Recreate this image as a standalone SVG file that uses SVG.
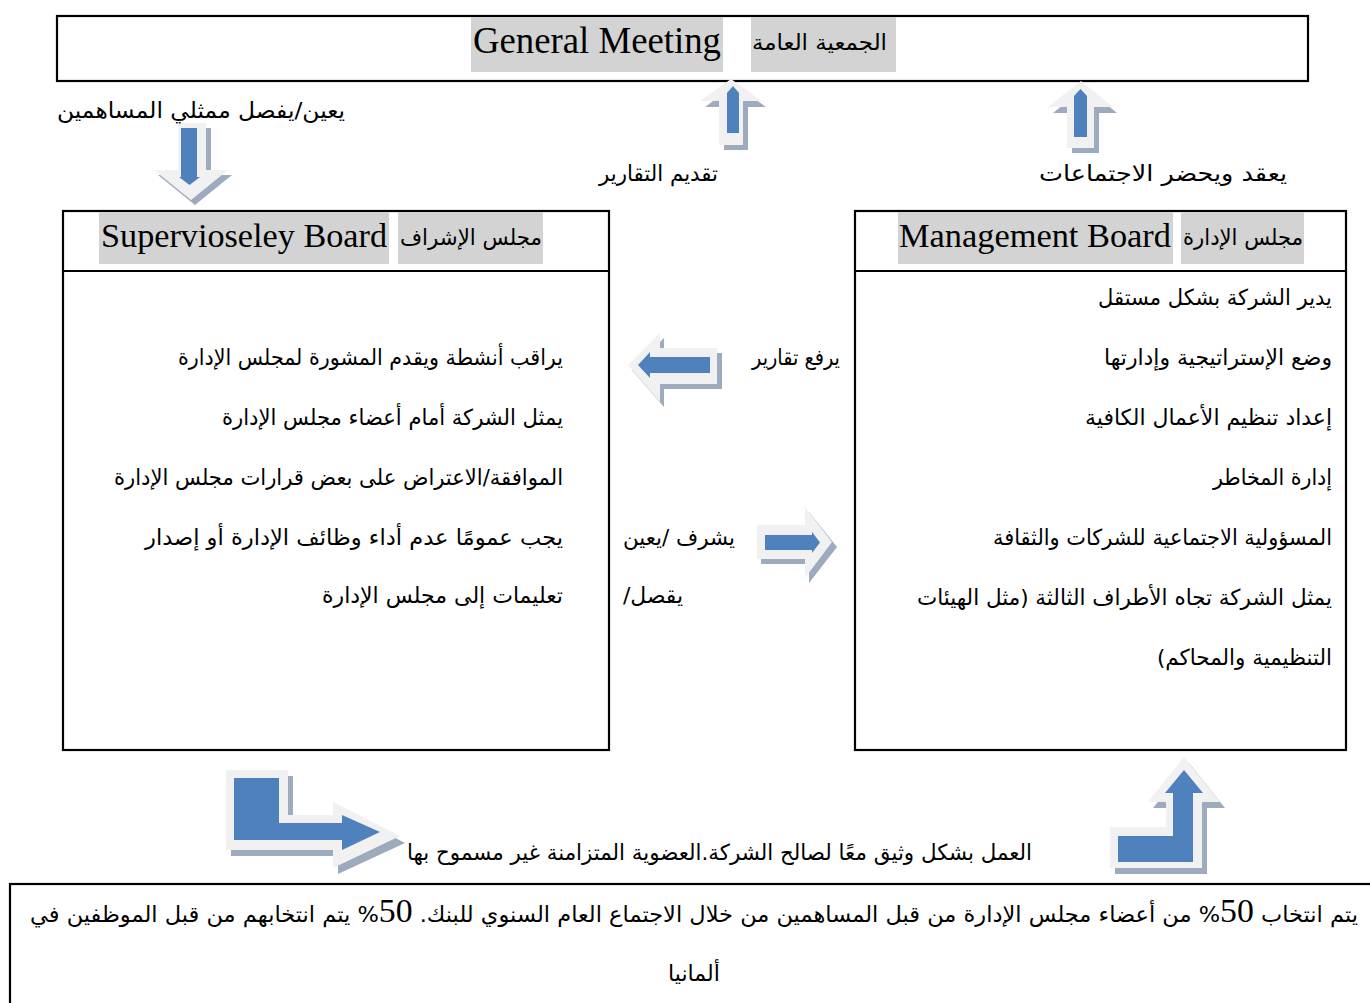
<svg xmlns="http://www.w3.org/2000/svg" width="1370" height="1003" viewBox="0 0 1370 1003">
  <style>
    .box { fill: none; stroke: #000; stroke-width: 2.2; }
    .hl { fill: #d3d3d3; }
    .en { font-family: 'Liberation Serif', 'Times New Roman', serif; fill: #000; }
    .ar { font-family: 'DejaVu Sans', sans-serif; font-size: 22px; fill: #000; direction: rtl; text-anchor: start; }
    .num { font-family: 'Liberation Serif', serif; font-size: 33px; }
    .shadow { fill: #9eaabd; }
    .rim { fill: #f1f1f1; }
    .core { fill: #4f81bd; }
  </style>
  <rect width="1370" height="1003" fill="#fff"/>

  <!-- General Meeting -->
  <g id="general-meeting">
    <rect class="box" x="57" y="16" width="1251" height="65"/>
    <rect class="hl" x="471" y="17" width="252" height="55"/>
    <rect class="hl" x="751" y="17" width="145" height="55"/>
    <text class="en" x="473" y="53" font-size="37" textLength="248" lengthAdjust="spacingAndGlyphs">General Meeting</text>
    <text class="ar" x="887" y="50" textLength="135" lengthAdjust="spacingAndGlyphs">الجمعية العامة</text>
  </g>

  <!-- Supervisory Board -->
  <g id="supervisory-board">
    <rect class="box" x="63" y="211" width="546" height="539"/>
    <line class="box" x1="63" y1="271" x2="609" y2="271"/>
    <rect class="hl" x="99" y="212" width="290" height="52"/>
    <rect class="hl" x="398" y="212" width="145" height="52"/>
    <text class="en" x="101" y="247" font-size="34" textLength="286" lengthAdjust="spacingAndGlyphs">Supervioseley Board</text>
    <text class="ar" x="542" y="245" textLength="142" lengthAdjust="spacingAndGlyphs">مجلس الإشراف</text>
    <text class="ar" x="563" y="365" textLength="385" lengthAdjust="spacingAndGlyphs">يراقب أنشطة ويقدم المشورة لمجلس الإدارة</text>
    <text class="ar" x="563" y="425" textLength="341" lengthAdjust="spacingAndGlyphs">يمثل الشركة أمام أعضاء مجلس الإدارة</text>
    <text class="ar" x="563" y="485" textLength="449" lengthAdjust="spacingAndGlyphs">الموافقة/الاعتراض على بعض قرارات مجلس الإدارة</text>
    <text class="ar" x="563" y="545" textLength="418" lengthAdjust="spacingAndGlyphs">يجب عمومًا عدم أداء وظائف الإدارة أو إصدار</text>
    <text class="ar" x="563" y="603" textLength="241" lengthAdjust="spacingAndGlyphs">تعليمات إلى مجلس الإدارة</text>
  </g>

  <!-- Management Board -->
  <g id="management-board">
    <rect class="box" x="855" y="211" width="491" height="539"/>
    <line class="box" x1="855" y1="271" x2="1346" y2="271"/>
    <rect class="hl" x="898" y="212" width="275" height="52"/>
    <rect class="hl" x="1181" y="212" width="123" height="52"/>
    <text class="en" x="899" y="247" font-size="34" textLength="272" lengthAdjust="spacingAndGlyphs">Management Board</text>
    <text class="ar" x="1303" y="245" textLength="120" lengthAdjust="spacingAndGlyphs">مجلس الإدارة</text>
    <text class="ar" x="1332" y="305" textLength="234" lengthAdjust="spacingAndGlyphs">يدير الشركة بشكل مستقل</text>
    <text class="ar" x="1332" y="365" textLength="228" lengthAdjust="spacingAndGlyphs">وضع الإستراتيجية وإدارتها</text>
    <text class="ar" x="1332" y="425" textLength="247" lengthAdjust="spacingAndGlyphs">إعداد تنظيم الأعمال الكافية</text>
    <text class="ar" x="1332" y="485" textLength="119" lengthAdjust="spacingAndGlyphs">إدارة المخاطر</text>
    <text class="ar" x="1332" y="545" textLength="339" lengthAdjust="spacingAndGlyphs">المسؤولية الاجتماعية للشركات والثقافة</text>
    <text class="ar" x="1332" y="605" textLength="415" lengthAdjust="spacingAndGlyphs">يمثل الشركة تجاه الأطراف الثالثة (مثل الهيئات</text>
    <text class="ar" x="1332" y="665" textLength="175" lengthAdjust="spacingAndGlyphs">التنظيمية والمحاكم)</text>
  </g>

  <!-- Election note -->
  <g id="election-note">
    <rect class="box" x="10" y="884" width="1400" height="200"/>
    <text class="ar" x="1358" y="922" textLength="1328" lengthAdjust="spacingAndGlyphs">يتم انتخاب <tspan class="num">50</tspan>% من أعضاء مجلس الإدارة من قبل المساهمين من خلال الاجتماع العام السنوي للبنك. <tspan class="num">50</tspan>% يتم انتخابهم من قبل الموظفين في</text>
    <text class="ar" x="720" y="981" textLength="52" lengthAdjust="spacingAndGlyphs">ألمانيا</text>
  </g>

  <!-- Connectors -->
  <g id="connectors">
    <!-- shareholders' representatives: General Meeting down to Supervisory Board -->
    <g id="arrow-appoint">
      <path class="shadow" d="M182,128 H211 V175 H232 L195,205 L158,175 H182 Z"/>
      <path class="rim" d="M178,123 H206 V170 H228 L191,200 L154,170 H178 Z"/>
      <path class="core" d="M181,128 H197 V177 H200 L189.5,185 L179,177 H181 Z"/>
      <text class="ar" x="345" y="118" textLength="288" lengthAdjust="spacingAndGlyphs">يعين/يفصل ممثلي المساهمين</text>
    </g>
    <!-- reports up to General Meeting -->
    <g id="arrow-report-gm">
      <path class="shadow" d="M735,85 L766,107 H748 V150 H724 V107 H705 Z"/>
      <path class="rim" d="M731,79 L762,101 H743 V145 H719 V101 H700 Z"/>
      <path class="core" d="M727,93 L733,86 L739,93 V133 H727 Z"/>
      <text class="ar" x="718" y="181" textLength="119" lengthAdjust="spacingAndGlyphs">تقديم التقارير</text>
    </g>
    <!-- meetings: Management Board up to General Meeting -->
    <g id="arrow-meetings">
      <path class="shadow" d="M1085,87 L1117,113 H1099 V153 H1072 V113 H1053 Z"/>
      <path class="rim" d="M1081,81 L1113,107 H1094 V148 H1067 V107 H1048 Z"/>
      <path class="core" d="M1074,96 L1080.5,89 L1087,96 V137 H1074 Z"/>
      <text class="ar" x="1287" y="181" textLength="248" lengthAdjust="spacingAndGlyphs">يعقد ويحضر الاجتماعات</text>
    </g>
    <!-- reports from Management Board to Supervisory Board -->
    <g id="arrow-reports">
      <path class="shadow" d="M632,370 L664,338 V353 H722 V389 H664 V407 Z"/>
      <path class="rim" d="M628,365 L660,333 V348 H717 V384 H660 V402 Z"/>
      <path class="core" d="M638,365 L650,352 V357 H710 V373 H650 V378 Z"/>
      <text class="ar" x="840" y="365" textLength="88" lengthAdjust="spacingAndGlyphs">يرفع تقارير</text>
    </g>
    <!-- supervision from Supervisory Board to Management Board -->
    <g id="arrow-supervise">
      <path class="shadow" d="M761,530 H809 V512 L837,547 L809,583 V564 H761 Z"/>
      <path class="rim" d="M757,525 H805 V507 L832,542 L805,578 V559 H757 Z"/>
      <path class="core" d="M765,535 H812 V532 L820,542.5 L812,553 V550 H765 Z"/>
      <text class="ar" x="735" y="545" textLength="112" lengthAdjust="spacingAndGlyphs">يشرف /يعين</text>
      <text class="ar" x="683" y="603" textLength="60" lengthAdjust="spacingAndGlyphs">يقصل/</text>
    </g>
    <!-- cooperation between the boards -->
    <g id="arrow-cooperate-left">
      <path class="shadow" d="M231,776 H293 V821 H338 V808 L405,843 L338,874 V856 H231 Z"/>
      <path class="rim" d="M226,770 H288 V815 H333 V802 L400,836 L333,868 V850 H226 Z"/>
      <path class="core" d="M234,778 H279 V823 H342 V815 L380,832 L342,850 V840 H234 Z"/>
    </g>
    <g id="arrow-cooperate-right">
      <path class="shadow" d="M1115,833 H1171 V808 H1153 L1189,763 L1225,808 H1207 V874 H1115 Z"/>
      <path class="rim" d="M1110,827 H1166 V802 H1148 L1184,757 L1220,802 H1202 V868 H1110 Z"/>
      <path class="core" d="M1118,836 H1173 V793 H1165 L1184,770 L1203,793 H1193 V862 H1118 Z"/>
    </g>
    <text class="ar" x="1032" y="860" textLength="625" lengthAdjust="spacingAndGlyphs">العمل بشكل وثيق معًا لصالح الشركة.العضوية المتزامنة غير مسموح بها</text>
  </g>
</svg>
